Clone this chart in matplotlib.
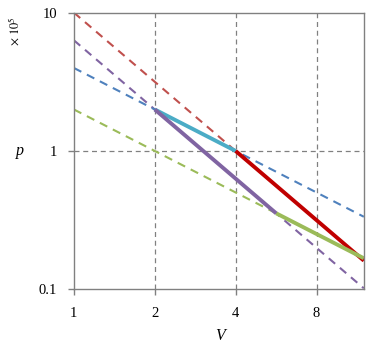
import numpy as np
import matplotlib
matplotlib.use("Agg")
import matplotlib.pyplot as plt
from matplotlib.ticker import FixedLocator, FixedFormatter, NullLocator

# data
x_ticks = [1, 2, 4, 8]
x_tick_labels = ["1", "2", "4", "8"]
y_ticks = [0.1, 1, 10]
y_tick_labels = ["0.1", "1", "10"]
gamma = 5 / 3
v_min, v_max = 1.0, 12.0
# reference states (V, p)
hot_isotherm_pV = 4.0
cold_isotherm_pV = 2.0
upper_adiabat_ref = (4.0, 1.0)
lower_adiabat_ref = (2.0, 2.0)
v_a = 2.0            # start of hot isotherm
v_b = 4.0            # end of hot isotherm
v_d = 5.66           # lower adiabat meets cold isotherm

plt.rcParams['font.family'] = ['Liberation Serif', 'DejaVu Serif']
plt.rcParams['mathtext.fontset'] = 'stix'

fig = plt.figure(figsize=(3.79, 3.54), dpi=100)
ax = fig.add_axes([0.195, 0.184, 0.765, 0.779])

V = np.geomspace(v_min, v_max, 300)

def isotherm(c, v):
    return c / v

def adiabat(ref, v):
    return ref[1] * (v / ref[0]) ** (-gamma)

c_red = '#C0504D'
c_purple = '#8064A2'
c_blue = '#4F81BD'
c_green = '#9BBB59'
dash = (0, (4, 3))

ax.plot(V, adiabat(upper_adiabat_ref, V), color=c_red, lw=1.5, linestyle=dash)
ax.plot(V, adiabat(lower_adiabat_ref, V), color=c_purple, lw=1.5, linestyle=dash)
ax.plot(V, isotherm(hot_isotherm_pV, V), color=c_blue, lw=1.5, linestyle=dash)
ax.plot(V, isotherm(cold_isotherm_pV, V), color=c_green, lw=1.5, linestyle=dash)

v1 = np.geomspace(v_a, v_b, 100)
ax.plot(v1, isotherm(hot_isotherm_pV, v1), color='#4BACC6', lw=2.8, solid_capstyle='butt')
v2 = np.geomspace(v_b, v_max, 100)
ax.plot(v2, adiabat(upper_adiabat_ref, v2), color='#C00000', lw=2.8, solid_capstyle='butt')
v3 = np.geomspace(v_d, v_max, 100)
ax.plot(v3, isotherm(cold_isotherm_pV, v3), color=c_green, lw=2.8, solid_capstyle='butt')
v4 = np.geomspace(v_a, v_d, 100)
ax.plot(v4, adiabat(lower_adiabat_ref, v4), color=c_purple, lw=2.8, solid_capstyle='butt')

ax.set_xscale('log')
ax.set_yscale('log')
ax.set_xlim(v_min, v_max)
ax.set_ylim(0.1, 10)

ax.xaxis.set_major_locator(FixedLocator(x_ticks))
ax.xaxis.set_major_formatter(FixedFormatter(x_tick_labels))
ax.xaxis.set_minor_locator(NullLocator())
ax.yaxis.set_major_locator(FixedLocator(y_ticks))
ax.yaxis.set_major_formatter(FixedFormatter(y_tick_labels))
ax.yaxis.set_minor_locator(NullLocator())

for xv in x_ticks[1:]:
    ax.axvline(xv, color='#808080', lw=0.9, linestyle=(0, (4, 3)), zorder=0)
ax.axhline(1, color='#808080', lw=0.9, linestyle=(0, (4, 3)), zorder=0)

for s in ax.spines.values():
    s.set_color('#808080')
    s.set_linewidth(1.0)

ax.tick_params(axis='both', direction='out', length=4, color='#808080', width=1.0,
               labelsize=10.5, labelcolor='black')
ax.tick_params(axis='x', pad=9)
ax.tick_params(axis='y', pad=8)

fig.text(220 / 379, 1 - 336 / 354, 'V', style='italic', fontsize=11.5, ha='center', va='center')
fig.text(20 / 379, 1 - 151 / 354, 'p', style='italic', fontsize=11.5, ha='center', va='center')
fig.text(15 / 379, 1 - 31 / 354, r'$\times\ 10^5$', rotation=90, fontsize=9, ha='center', va='center')

fig.savefig('out.png', dpi=100)
